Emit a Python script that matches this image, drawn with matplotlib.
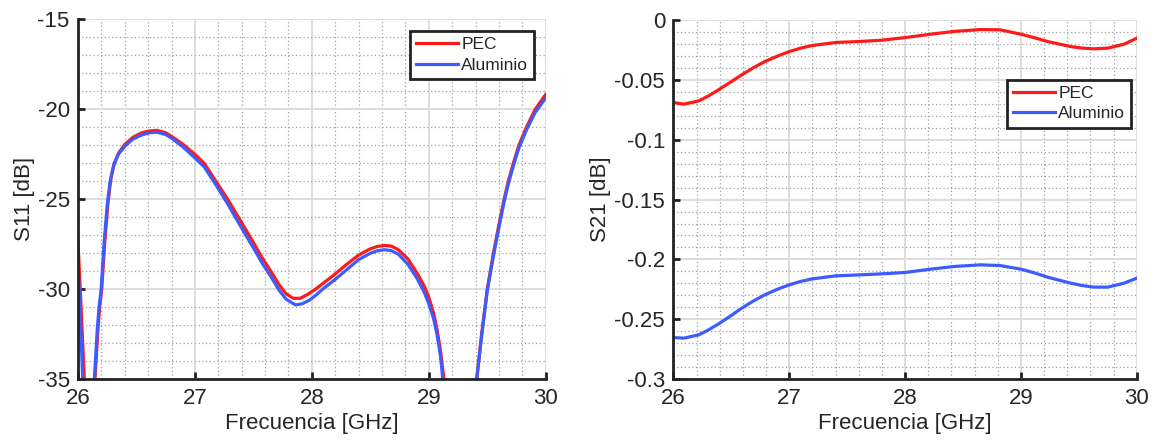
import matplotlib
matplotlib.use("Agg")
import matplotlib.pyplot as plt
from matplotlib.ticker import MultipleLocator, FuncFormatter

plt.rcParams['font.family'] = ['Liberation Sans', 'DejaVu Sans']
plt.rcParams['axes.unicode_minus'] = False

# S11 (values below -35 dB are off-axis)
f11_pec = [26.00, 26.03, 26.054, 26.10, 26.145, 26.17, 26.185, 26.203, 26.229, 26.255, 26.28,
           26.31, 26.35, 26.40, 26.47, 26.547, 26.61, 26.675, 26.75, 26.80, 26.90, 27.00,
           27.08, 27.18, 27.28, 27.40, 27.50, 27.58, 27.65, 27.72, 27.78, 27.84, 27.90, 27.96,
           28.03, 28.10, 28.19, 28.30, 28.40, 28.50, 28.56, 28.62, 28.68, 28.74, 28.82, 28.90,
           28.96, 29.00, 29.04, 29.07, 29.10, 29.13, 29.25, 29.41, 29.45, 29.50, 29.55, 29.60,
           29.644, 29.68, 29.723, 29.77, 29.835, 29.91, 30.00]
s11_pec = [-27.35, -31.5, -35.0, -45.0, -35.0, -32.3, -31.0, -30.0, -27.4, -25.3, -23.9,
           -23.0, -22.4, -21.95, -21.55, -21.3, -21.2, -21.17, -21.3, -21.5, -21.95, -22.5,
           -23.0, -24.0, -25.0, -26.3, -27.4, -28.3, -29.0, -29.75, -30.25, -30.5, -30.5, -30.3,
           -30.0, -29.65, -29.2, -28.6, -28.1, -27.75, -27.62, -27.56, -27.6, -27.8, -28.3, -29.1,
           -29.8, -30.45, -31.3, -32.2, -33.4, -35.0, -45.0, -35.0, -32.6, -30.0, -28.1, -26.4,
           -25.0, -24.0, -23.0, -22.0, -21.0, -20.0, -19.17]

f11_alu = [26.00, 26.02, 26.04, 26.09, 26.14, 26.165, 26.18, 26.198, 26.224, 26.25, 26.275,
           26.305, 26.345, 26.40, 26.47, 26.547, 26.61, 26.675, 26.75, 26.80, 26.90, 27.00,
           27.08, 27.18, 27.28, 27.40, 27.50, 27.58, 27.65, 27.72, 27.78, 27.86, 27.92, 27.98,
           28.04, 28.10, 28.19, 28.30, 28.40, 28.50, 28.56, 28.62, 28.68, 28.74, 28.82, 28.90,
           28.96, 29.00, 29.04, 29.07, 29.10, 29.12, 29.25, 29.41, 29.45, 29.50, 29.55, 29.60,
           29.644, 29.68, 29.723, 29.77, 29.835, 29.91, 30.00]
s11_alu = [-28.55, -31.5, -35.0, -45.0, -35.0, -32.2, -31.0, -30.0, -27.4, -25.3, -24.0,
           -23.1, -22.5, -22.05, -21.65, -21.42, -21.3, -21.27, -21.4, -21.6, -22.1, -22.7,
           -23.2, -24.2, -25.25, -26.6, -27.7, -28.6, -29.3, -30.05, -30.55, -30.87, -30.8, -30.6,
           -30.3, -29.95, -29.5, -28.9, -28.35, -28.0, -27.86, -27.8, -27.85, -28.05, -28.6, -29.4,
           -30.15, -30.8, -31.6, -32.5, -33.7, -35.0, -45.0, -35.0, -32.7, -30.1, -28.25, -26.55,
           -25.15, -24.15, -23.15, -22.15, -21.15, -20.17, -19.36]

# S21
f21 = [26.00, 26.09, 26.22, 26.30, 26.39, 26.49, 26.59, 26.69, 26.79, 26.90, 27.00, 27.10,
       27.20, 27.40, 27.60, 27.80, 28.00, 28.22, 28.42, 28.65, 28.82, 29.00, 29.12, 29.23,
       29.43, 29.53, 29.63, 29.75, 29.89, 30.00]
s21_pec = [-0.069, -0.0704, -0.0676, -0.0637, -0.0584, -0.0522, -0.0459, -0.0400, -0.0348,
           -0.0302, -0.0265, -0.0236, -0.0214, -0.0189, -0.0181, -0.0170, -0.0148, -0.0120,
           -0.0097, -0.0081, -0.0083, -0.0120, -0.0150, -0.0181, -0.0223, -0.0236, -0.0242,
           -0.0236, -0.0203, -0.0153]
s21_alu = [-0.2652, -0.2657, -0.2629, -0.2590, -0.2538, -0.2474, -0.2407, -0.2347, -0.2295,
           -0.2248, -0.2212, -0.2183, -0.2162, -0.2137, -0.2129, -0.2120, -0.2109, -0.2081,
           -0.2059, -0.2045, -0.2051, -0.2081, -0.2113, -0.2148, -0.2198, -0.2218, -0.2231,
           -0.2231, -0.2198, -0.2156]

red = '#ff1a1a'
blue = '#3d5cff'

fig = plt.figure(figsize=(11.52, 4.41), dpi=100)
ax1 = fig.add_axes([0.0677, 0.140, 0.406, 0.816])
ax2 = fig.add_axes([0.5845, 0.140, 0.4023, 0.815])


def style(ax, ymajor, yminor):
    ax.set_xlim(26, 30)
    ax.xaxis.set_major_locator(MultipleLocator(1))
    ax.xaxis.set_minor_locator(MultipleLocator(0.2))
    ax.yaxis.set_major_locator(MultipleLocator(ymajor))
    ax.yaxis.set_minor_locator(MultipleLocator(yminor))
    ax.yaxis.set_major_formatter(FuncFormatter(lambda v, p: '%g' % round(v, 4)))
    ax.grid(which='major', color='#dadada', linewidth=1.3, linestyle='-')
    ax.grid(which='minor', color='#a0a0a0', linewidth=0.9, linestyle=(0, (1, 2)))
    ax.set_axisbelow(True)
    ax.spines['top'].set_visible(False)
    ax.spines['right'].set_visible(False)
    for s in ('left', 'bottom'):
        ax.spines[s].set_linewidth(2)
        ax.spines[s].set_color('#222222')
    ax.tick_params(which='major', direction='in', length=5, width=2, color='#222222',
                   labelsize=16, labelcolor='#262626', pad=6)
    ax.tick_params(which='minor', length=0)
    ax.set_xlabel('Frecuencia [GHz]', fontsize=16, color='#262626', labelpad=3)


style(ax1, 5, 1)
ax1.set_ylim(-35, -15)
ax1.plot(f11_pec, s11_pec, color=red, linewidth=2.3, label='PEC')
ax1.plot(f11_alu, s11_alu, color=blue, linewidth=2.3, label='Aluminio')
ax1.set_ylabel('S11 [dB]', fontsize=16, color='#262626', labelpad=2)

style(ax2, 0.05, 0.01)
ax2.set_ylim(-0.3, 0)
ax2.plot(f21, s21_pec, color=red, linewidth=2.3, label='PEC')
ax2.plot(f21, s21_alu, color=blue, linewidth=2.3, label='Aluminio')
ax2.set_ylabel('S21 [dB]', fontsize=16, color='#262626', labelpad=2)

for ax, anchor in ((ax1, (0.976, 0.9675)), (ax2, (0.988, 0.833))):
    leg = ax.legend(loc='upper right', bbox_to_anchor=anchor, fontsize=12.5, fancybox=False,
                    framealpha=1, edgecolor='#222222', handlelength=2.4, handletextpad=0.2,
                    borderpad=0.35, labelspacing=0.3, borderaxespad=0)
    leg.get_frame().set_linewidth(2)
    for t in leg.get_texts():
        t.set_color('#262626')

fig.savefig('out.png', dpi=100)
